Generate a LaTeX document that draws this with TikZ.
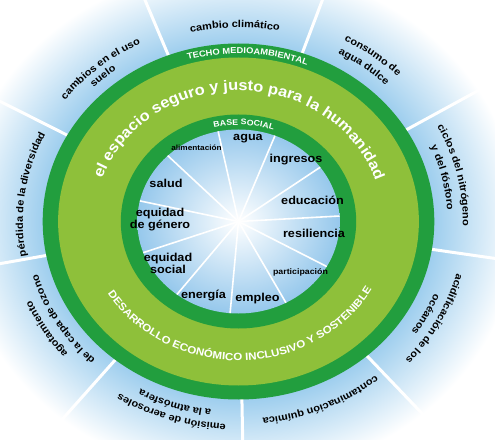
\documentclass[tikz,border=0pt]{standalone}
\usepackage{fontspec}
\setmainfont{Liberation Sans}[FakeStretch=1.1]
\usetikzlibrary{decorations.text}
\definecolor{ringdark}{RGB}{34,158,62}
\definecolor{ringlight}{RGB}{142,192,58}
\definecolor{skyglow}{RGB}{158,206,238}
\definecolor{corebl}{RGB}{150,200,236}
\pgfdeclareradialshading{outerglow}{\pgfpoint{0bp}{0bp}}{color(0bp)=(skyglow); color(17.4bp)=(skyglow); color(25bp)=(white); color(50bp)=(white)}
\newcommand{\outfont}{\bfseries\fontsize{10}{12}\selectfont}
% text on an elliptic arc: radius, middle angle, half span, format, text
\newcommand{\ringtext}[5]{%
  \path[decorate, decoration={text along path, text align=center, text={|#4|#5}}]
    ({1.1*#1*cos(#2+#3)}, {#1*sin(#2+#3)})
    arc[start angle=#2+#3, end angle=#2-#3, x radius=1.1*#1, y radius=#1];}

\begin{document}
\begin{tikzpicture}[x=1pt, y=1pt,
    inlabel/.style={font=\bfseries\fontsize{11.5}{12}\selectfont, align=center, inner sep=0pt},
    tinylabel/.style={font=\bfseries\fontsize{7.5}{8}\selectfont, inner sep=0pt},
    smalllabel/.style={font=\bfseries\fontsize{8}{9}\selectfont, inner sep=0pt}]
  \useasboundingbox (-238.5,-217.5) rectangle (256.5,221.5);
  \fill[white] (-238.5,-217.5) rectangle (256.5,221.5);
  % blue halo, fading out to white
  \shade[shading=outerglow] (0,0) ellipse [x radius=280.5, y radius=255];
  % outer spokes between the boundaries
  \foreach \a in {71,31,...,-249}{
    \draw[white, line width=3pt] ({1.1*176*cos(\a)},{176*sin(\a)}) -- ({1.1*290*cos(\a)},{290*sin(\a)});
  }
  % rings
  \fill[ringdark] (0,0) ellipse [x radius=195.8, y radius=178];
  \fill[ringlight] (0,0) ellipse [x radius=180.4, y radius=164];
  \fill[ringdark] (0,0) ellipse [x radius=117.7, y radius=107];
  \shade[inner color=white, outer color=corebl] (0,0) ellipse [x radius=101.2, y radius=92];
  % inner spokes
  \foreach \i in {0,...,10}{
    \draw[white, line width=1.6pt] (0,0) -- ({1.1*92*cos(101.6-32.727*\i)},{92*sin(101.6-32.727*\i)});
  }
  % texts on the rings
  \ringtext{168}{87}{40}{\color{white}\bfseries\fontsize{8.5}{9}\selectfont}{TECHO MEDIOAMBIENTAL}
  \ringtext{96.5}{87}{40}{\color{white}\bfseries\fontsize{8}{9}\selectfont}{BASE SOCIAL}
  \ringtext{131}{89.5}{86}{\color{white}\bfseries\fontsize{15}{16}\selectfont}{el espacio seguro y justo para la humanidad}
  \path[decorate, decoration={text along path, text align=center,
      text={|\color{white}\bfseries\fontsize{10.5}{11}\selectfont|DESARROLLO ECONÓMICO INCLUSIVO Y SOSTENIBLE}}]
    ({1.1*139*cos(-170)},{139*sin(-170)}) arc[start angle=-170, end angle=-8, x radius=1.1*139, y radius=139];
  % planetary boundaries
  \ringtext{194}{91}{30}{\outfont}{cambio climático}
  \ringtext{205}{53}{30}{\outfont}{consumo de}
  \ringtext{191}{53}{30}{\outfont}{agua dulce}
  \ringtext{204}{13}{30}{\outfont}{ciclos del nitrógeno}
  \ringtext{190}{13}{30}{\outfont}{y del fósforo}
  \ringtext{205}{-28}{30}{\outfont}{acidificación de los}
  \ringtext{192}{-28}{30}{\outfont}{océanos}
  \ringtext{198}{-67}{30}{\outfont}{contaminación química}
  \ringtext{203}{-108}{30}{\outfont}{emisión de aerosoles}
  \ringtext{190}{-108}{30}{\outfont}{a la atmósfera}
  \ringtext{204}{-149}{30}{\outfont}{agotamiento}
  \ringtext{190}{-149}{30}{\outfont}{de la capa de ozono}
  \ringtext{196}{172}{30}{\outfont}{pérdida de la diversidad}
  \ringtext{199}{130}{30}{\outfont}{cambios en el uso}
  \ringtext{188}{131}{30}{\outfont}{suelo}
  % social foundation
  \node[inlabel] (agua) at (9.5,82.5) {agua};
  \node[tinylabel] (alimentacion) at (-42,73.5) {alimentación};
  \node[inlabel] (ingresos) at (57.5,61.5) {ingresos};
  \node[inlabel] (salud) at (-72.5,38.5) {salud};
  \node[inlabel] (educacion) at (74,21.5) {educación};
  \node[inlabel] (genero) at (-78.5,1.5) {equidad\\de género};
  \node[inlabel] (resiliencia) at (75.5,-11.5) {resiliencia};
  \node[inlabel] (social) at (-70.5,-41.5) {equidad\\social};
  \node[smalllabel] (participacion) at (62,-50.5) {participación};
  \node[inlabel] (energia) at (-35,-74.5) {energía};
  \node[inlabel] (empleo) at (19,-77.5) {empleo};
\end{tikzpicture}
\end{document}
